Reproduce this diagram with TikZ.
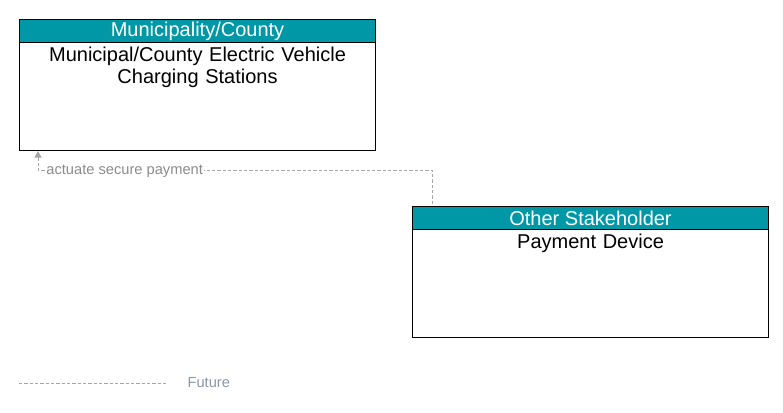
\documentclass[tikz,border=0pt]{standalone}
\usepackage{fontspec}
\setmainfont{Liberation Sans}
\usetikzlibrary{arrows.meta,positioning}
\tikzset{>/.tip={Triangle[width=5.5pt,length=5pt]}}
\definecolor{stakeholder}{RGB}{0,152,166}
\definecolor{future}{RGB}{165,165,165}
\definecolor{legendtext}{RGB}{140,150,165}
\colorlet{flowtext}{black!45}

\begin{document}
\begin{tikzpicture}[x=0.75pt,y=-0.75pt,node distance=0pt,
    elembox/.style={draw,line width=0.8pt,minimum width=267pt,minimum height=98.25pt,inner sep=0pt},
    headbox/.style={draw,line width=0.8pt,fill=stakeholder,text=white,minimum width=267pt,
      minimum height=17pt,inner sep=0pt,font=\fontsize{15}{17}\selectfont},
    elemtext/.style={text width=260pt,align=center,inner sep=0pt,font=\fontsize{15}{16.5}\selectfont},
    flow/.style={future,line width=0.75pt,dash pattern=on 2.5pt off 1.5pt},
    flowlabel/.style={fill=white,text=flowtext,inner sep=1pt,yshift=-1.2pt,font=\fontsize{11}{13}\selectfont}]
  \useasboundingbox (0,0) rectangle (783,412);
  % elements
  \node(evcs)[elembox,anchor=north west] at (19,19) {};
  \node(evcsHead)[headbox,anchor=north] at (evcs.north) {Municipality/County};
  \node(evcsName)[elemtext,below=3pt of evcsHead] {Municipal/County Electric Vehicle\\Charging Stations};
  \node(pay)[elembox,anchor=north west] at (412,206) {};
  \node(payHead)[headbox,anchor=north] at (pay.north) {Other Stakeholder};
  \node(payName)[elemtext,below=3pt of payHead] {Payment Device};
  % flow
  \coordinate(payPort) at ([xshift=15pt]pay.north west);
  \coordinate(evcsPort) at ([xshift=14.25pt]evcs.south west);
  \coordinate(turn) at (payPort |- 0,170);
  \draw[flow,<-] (evcsPort) |- node[flowlabel,pos=0.61]{actuate secure payment} (turn) -- (payPort);
  % legend
  \coordinate(futA) at (19,383);
  \coordinate(futB) at (166,383);
  \draw[flow] (futA) -- (futB);
  \node(fut)[right=16pt of futB,text=legendtext,inner sep=0pt,font=\fontsize{11}{13}\selectfont]{Future};
\end{tikzpicture}
\end{document}
